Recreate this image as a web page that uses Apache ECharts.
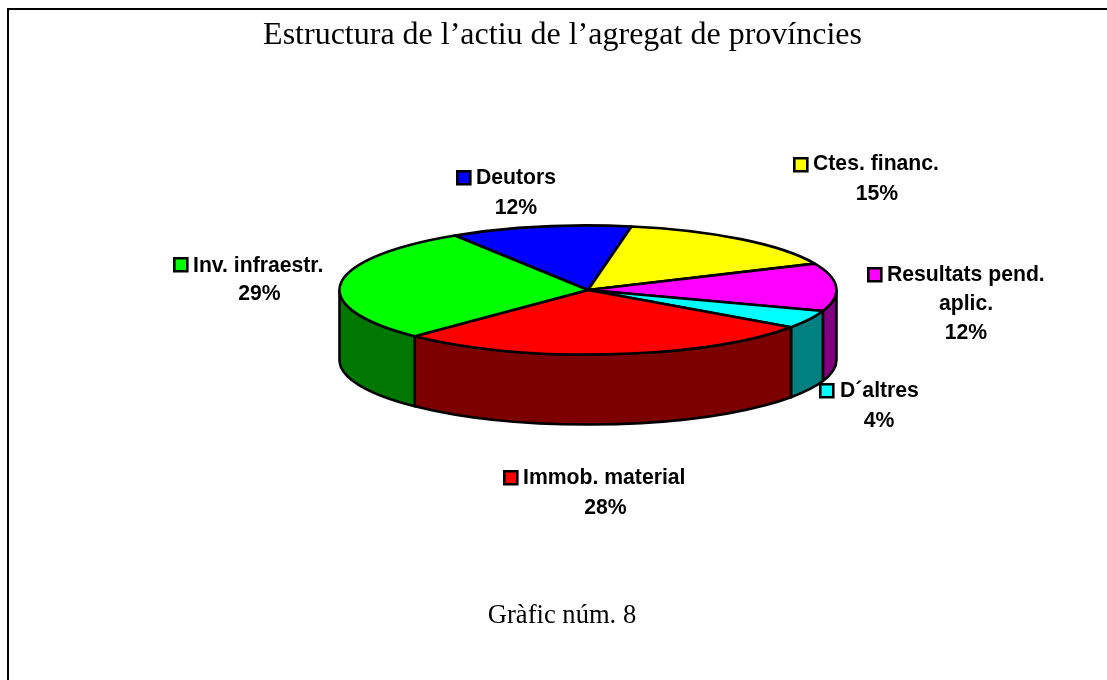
<!DOCTYPE html>
<html>
<head>
<meta charset="utf-8">
<style>html,body{margin:0;padding:0;background:#fff}#c{width:1107px;height:680px}</style>
<script src="https://cdn.jsdelivr.net/npm/echarts@6/dist/echarts.min.js"></script>
</head>
<body>
<div id="c"></div>
<script>
// Data (clockwise from the Deutors slice)
const categories = ['Deutors', 'Ctes. financ.', 'Resultats pend.\naplic.', 'D´altres', 'Immob. material', 'Inv. infraestr.'];
const values = [11.8, 15.49, 12.0, 4.49, 27.5, 28.72];
const titleText = 'Estructura de l’actiu de l’agregat de províncies';
const footerText = 'Gràfic núm. 8';

// Style and layout
const topColors = ['#0000ff', '#ffff00', '#ff00ff', '#00ffff', '#ff0000', '#00ff00'];
const sideColors = ['#000080', '#808000', '#800080', '#008080', '#7c0000', '#007800'];
const keyPos = [[456, 170], [793, 157], [867, 267], [819, 383], [503, 470], [173, 257]];
const textLeft = [476, 813, 887, 840, 523, 193];
const lineCenters = [[516], [877], [966, 966], [879], [605.5], [259.5]];
const lineYs = [[178.5, 208.5], [164.5, 194], [275, 304, 333], [391, 421], [478, 508], [266, 294.5]];
const pie = { cx: 588, cy: 290, rx: 248.5, ry: 64.5, depth: 70, start: -122.4 };

const total = values.reduce((a, b) => a + b, 0);
const rad = d => d * Math.PI / 180;
function px(t) { return pie.cx + pie.rx * Math.cos(rad(t)); }
function py(t) { return pie.cy + pie.ry * Math.sin(rad(t)); }
function sliceRange(i) {
  let s = 0;
  for (let k = 0; k < i; k++) s += values[k];
  const a = pie.start + s / total * 360;
  return [a, a + values[i] / total * 360];
}
const border = { stroke: '#000', lineWidth: 2.6, lineJoin: 'round' };

function renderWall(params, api) {
  const r = sliceRange(params.dataIndex);
  const a = Math.max(r[0], 0), b = Math.min(r[1], 180);
  if (b <= a) return { type: 'group', children: [] };
  const d = pie.depth;
  const path = `M${px(a)} ${py(a)} A${pie.rx} ${pie.ry} 0 0 1 ${px(b)} ${py(b)} ` +
    `L${px(b)} ${py(b) + d} A${pie.rx} ${pie.ry} 0 0 0 ${px(a)} ${py(a) + d} Z`;
  return { type: 'path', shape: { pathData: path },
    style: Object.assign({ fill: sideColors[params.dataIndex] }, border) };
}
function renderTop(params, api) {
  const r = sliceRange(params.dataIndex);
  const large = r[1] - r[0] > 180 ? 1 : 0;
  const path = `M${pie.cx} ${pie.cy} L${px(r[0])} ${py(r[0])} ` +
    `A${pie.rx} ${pie.ry} 0 ${large} 1 ${px(r[1])} ${py(r[1])} Z`;
  return { type: 'path', shape: { pathData: path },
    style: Object.assign({ fill: topColors[params.dataIndex] }, border) };
}
function renderLabel(params, api) {
  const i = params.dataIndex;
  const font = 'bold 21.2px "Liberation Sans", Arial, sans-serif';
  const children = [{ type: 'rect', shape: { x: keyPos[i][0] + 1.3, y: keyPos[i][1] + 1.3, width: 13, height: 13 },
    style: { fill: topColors[i], stroke: '#000', lineWidth: 2.6 } }];
  const lines = categories[i].split('\n');
  lines.forEach((line, k) => {
    children.push({ type: 'text', style: { text: line, x: k === 0 ? textLeft[i] : lineCenters[i][k - 1],
      y: lineYs[i][k], font, fill: '#000', align: k === 0 ? 'left' : 'center', verticalAlign: 'middle' } });
  });
  const pct = Math.round(api.value(0) / total * 100) + '%';
  const cIdx = lines.length - 1;
  children.push({ type: 'text', style: { text: pct, x: lineCenters[i][cIdx], y: lineYs[i][lines.length],
    font, fill: '#000', align: 'center', verticalAlign: 'middle' } });
  return { type: 'group', children };
}
const seriesData = values.map((v, i) => ({ name: categories[i], value: [v] }));
const chart = echarts.init(document.getElementById('c'), null, { renderer: 'canvas' });
chart.setOption({
  animation: false,
  backgroundColor: '#fff',
  title: { text: titleText, left: 557.5, top: 15, textAlign: 'center',
    textStyle: { fontFamily: '"Liberation Serif", "Times New Roman", serif', fontWeight: 'normal', fontSize: 32, color: '#000' } },
  graphic: [
    { type: 'polyline', shape: { points: [[8, 680], [8, 9], [1107, 9]] },
      style: { stroke: '#000', lineWidth: 2, fill: null } },
    { type: 'text', style: { text: footerText, x: 562, y: 616, align: 'center', verticalAlign: 'middle',
      font: '26.6px "Liberation Serif", "Times New Roman", serif', fill: '#000' } }
  ],
  series: [
    { type: 'custom', coordinateSystem: 'none', renderItem: renderWall, data: seriesData, z: 1 },
    { type: 'custom', coordinateSystem: 'none', renderItem: renderTop, data: seriesData, z: 2 },
    { type: 'custom', coordinateSystem: 'none', renderItem: renderLabel, data: seriesData, z: 3 }
  ]
});
</script>
</body>
</html>
